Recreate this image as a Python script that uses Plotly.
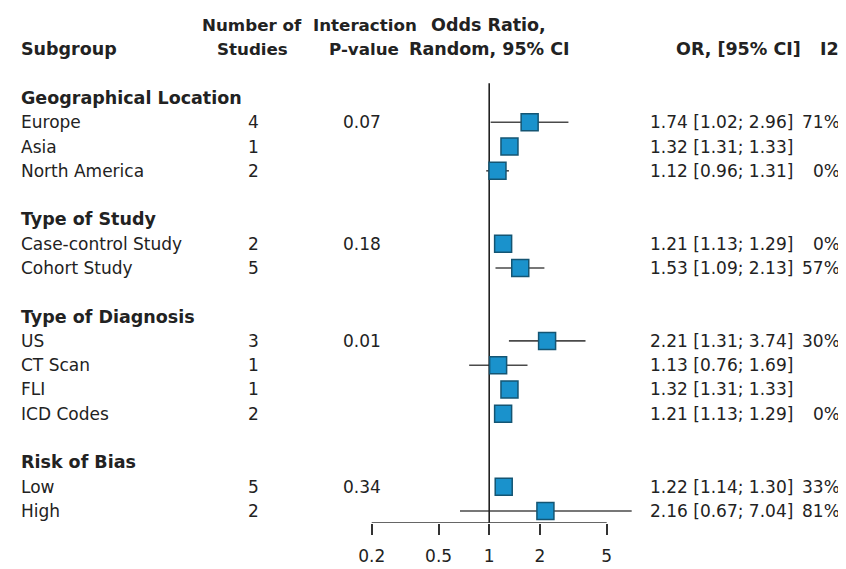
import plotly.graph_objects as go

# ---------------- data ----------------
groups = ["Geographical Location", "Type of Study", "Type of Diagnosis", "Risk of Bias"]
group_sizes = [3, 2, 4, 2]
p_interaction = ["0.07", "0.18", "0.01", "0.34"]
subgroups = ["Europe", "Asia", "North America",
             "Case-control Study", "Cohort Study",
             "US", "CT Scan", "FLI", "ICD Codes",
             "Low", "High"]
n_studies = [4, 1, 2, 2, 5, 3, 1, 1, 2, 5, 2]
or_est = [1.74, 1.32, 1.12, 1.21, 1.53, 2.21, 1.13, 1.32, 1.21, 1.22, 2.16]
ci_low = [1.02, 1.31, 0.96, 1.13, 1.09, 1.31, 0.76, 1.31, 1.13, 1.14, 0.67]
ci_high = [2.96, 1.33, 1.31, 1.29, 2.13, 3.74, 1.69, 1.33, 1.29, 1.30, 7.04]
i2 = ["71%", "", "0%", "0%", "57%", "30%", "", "", "0%", "33%", "81%"]
tick_vals = [0.2, 0.5, 1, 2, 5]
tick_text = ["0.2", "0.5", "1", "2", "5"]

# ---------------- layout helpers ----------------
OFF = 8                      # default page margin of the html body
W, H = 846 - OFF, 569 - OFF
FONT = "DejaVu Sans"
TXT = "#222222"
FS = 17
FSB = 17.5
FSH = 16.7

def px(xp):
    """screen pixel x -> paper fraction"""
    return (xp - OFF) / W

# rows: group header then its subgroups, then a blank row
group_rows, sub_rows = [], []
r = -1
for g, n in zip(groups, group_sizes):
    group_rows.append(r)
    for j in range(n):
        sub_rows.append(r + 1 + j)
    r += n + 2
row_bottom = 16.495
row_top = (OFF - 122) / 24.25

fig = go.Figure()

# confidence intervals
cx, cy = [], []
for lo, hi, yy in zip(ci_low, ci_high, sub_rows):
    cx += [lo, hi, None]
    cy += [yy, yy, None]
fig.add_trace(go.Scatter(x=cx, y=cy, mode="lines",
                         line=dict(color="#4a4a4a", width=1.6),
                         hoverinfo="skip", showlegend=False))

# reference line at OR = 1
fig.add_trace(go.Scatter(x=[1, 1], y=[-1.608, row_bottom], mode="lines",
                         line=dict(color="#222222", width=1.6),
                         hoverinfo="skip", showlegend=False))

# axis line from first to last tick
fig.add_trace(go.Scatter(x=[tick_vals[0], tick_vals[-1]], y=[row_bottom, row_bottom],
                         mode="lines", line=dict(color="#333333", width=1.6),
                         hoverinfo="skip", showlegend=False))

# point estimates
fig.add_trace(go.Scatter(x=or_est, y=sub_rows, mode="markers",
                         marker=dict(symbol="square", size=17, color="#1a92cc",
                                     line=dict(color="#145573", width=1.5)),
                         cliponaxis=False, showlegend=False))

ann = []
def add(text, xp, y, anchor="left", bold=False, size=None):
    ann.append(dict(text=("<b>%s</b>" % text) if bold else text,
                    x=px(xp), xref="paper", y=y, yref="y",
                    xanchor=anchor, yanchor="middle", showarrow=False,
                    font=dict(family=FONT, size=size or (FSB if bold else FS), color=TXT)))

# headers
add("Subgroup", 19, -3, bold=True)
add("Number of", 252, -4, "center", bold=True, size=FSH)
add("Studies", 252, -3, "center", bold=True, size=FSH)
add("Interaction", 365, -4, "center", bold=True, size=FSH)
add("P-value", 364, -3, "center", bold=True, size=FSH)
add("Odds Ratio,", 488, -4, "center", bold=True)
add("Random, 95% CI", 489, -3, "center", bold=True)
add("OR, [95% CI]", 738, -3, "center", bold=True)
add("I2", 829, -3, "center", bold=True)

# group titles and interaction p-values
for g, n, p, gr in zip(groups, group_sizes, p_interaction, group_rows):
    add(g, 19, gr, bold=True)
    add(p, 362, gr + 1, "center")

# subgroup rows
for name, n, o, lo, hi, ii, yy in zip(subgroups, n_studies, or_est, ci_low, ci_high, i2, sub_rows):
    add(name, 19, yy)
    add(str(n), 253, yy, "center")
    add("%.2f [%.2f; %.2f]" % (o, lo, hi), 795, yy, "right")
    if ii:
        add(ii, 842, yy, "right")

lo_edge = -0.699 - (371.7 - OFF) / 168.1
hi_edge = -0.699 + (846 - 371.7) / 168.1

fig.update_layout(
    width=W, height=H,
    margin=dict(l=0, r=0, t=0, b=569 - 523),
    paper_bgcolor="white", plot_bgcolor="white",
    showlegend=False,
    annotations=ann,
    xaxis=dict(type="log", range=[lo_edge, hi_edge], tickvals=tick_vals, ticktext=tick_text,
               ticks="outside", ticklen=11, tickwidth=1.6, tickcolor="#333333",
               showgrid=False, zeroline=False, showline=False,
               tickfont=dict(family=FONT, size=FS, color=TXT), ticklabelstandoff=7),
    yaxis=dict(range=[row_bottom, row_top], visible=False, showgrid=False, zeroline=False),
)

fig.write_html("out.html")
